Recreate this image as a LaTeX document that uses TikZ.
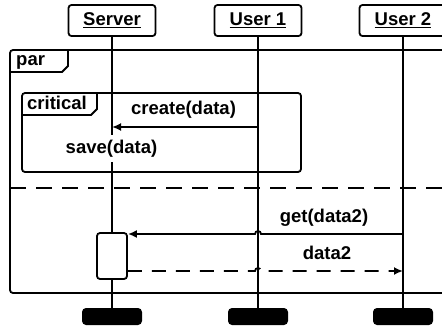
\documentclass[tikz,border=0pt]{standalone}
\usepackage{fontspec}
\setmainfont{Liberation Sans}
\usetikzlibrary{arrows.meta,calc}
\begin{document}
\begin{tikzpicture}[x=1pt,y=-1pt,
  every node/.style={font=\fontsize{18.5}{20}\selectfont\bfseries, inner sep=0pt},
  head/.style={draw, line width=1.8pt, rounded corners=3pt, minimum width=87pt, minimum height=31pt, fill=white},
  endbar/.style={fill=black, rounded corners=4pt, minimum width=60pt, minimum height=17pt},
  life/.style={line width=1.8pt},
  frame/.style={line width=1.8pt, rounded corners=3pt},
  tab/.style={line width=1.8pt},
  msg/.style={line width=1.8pt, -{Latex[length=9pt,width=8pt]}},
  ret/.style={msg, dash pattern=on 14pt off 10pt},
  sep/.style={line width=1.8pt, dash pattern=on 16pt off 10pt},
  act/.style={draw, line width=1.8pt, rounded corners=3pt, fill=white, minimum width=30pt, minimum height=46pt}]
\useasboundingbox (0,0) rectangle (442,327);
\clip (0,0) rectangle (442,327);

% headers and end bars
\node[head] (srv) at (112,20.5) {\underline{Server}};
\node[head] (ua) at (258,20.5) {\underline{User 1}};
\node[head] (ub) at (403,20.5) {\underline{User 2}};
\node[endbar] (es) at (112,316.5) {};
\node[endbar] (ea) at (258,316.5) {};
\node[endbar] (eb) at (403,316.5) {};

% par frame
\draw[frame] (10,50) rectangle (452,293);
\draw[tab] (10,72) -- (62,72) -- (68,66) -- (68,50);
\node[anchor=base west] (parl) at (16,65) {par};

% critical frame
\draw[frame] (22,93) rectangle (301,172);
\draw[tab] (22,115) -- (91,115) -- (97,109) -- (97,93);
\node[anchor=base west] (critl) at (27,109) {critical};

% separator
\coordinate (sepl) at (10,188);
\coordinate (sepr) at (452,188);
\draw[sep] (sepl) -- (sepr);

% lifelines
\draw[life] (srv.south) -- (es.north);
\draw[life] (ua.south) -- (ea.north);
\draw[life] (ub.south) -- (eb.north);

% create(data)
\coordinate (c1) at (258,127);
\coordinate (c2) at (112,127);
\draw[msg] (c1) -- (c2);
\node[anchor=base] (createl) at (183.5,114) {create(data)};

% save(data)
\node[anchor=base, fill=white, inner xsep=1pt, inner ysep=5pt] (savel) at (111.5,153) {save(data)};

% activation
\node[act] (actv) at (112,256) {};

% get(data2)
\coordinate (g1) at (403,234);
\coordinate (gj) at (261,234);
\coordinate (g2) at (actv.east |- g1);
\draw[msg] (g1) -- (gj) arc[start angle=0, end angle=180, radius=3pt] -- (g2);
\node[anchor=base] (getl) at (324,222) {get(data2)};

% data2 return
\coordinate (d1) at (actv.east |- 0,271);
\coordinate (dj) at (255,271);
\coordinate (d2) at (403,271);
\draw[ret] (d1) -- (dj) arc[start angle=180, end angle=0, radius=3pt] -- (d2);
\node[anchor=base] (datal) at (327,259) {data2};
\end{tikzpicture}
\end{document}
